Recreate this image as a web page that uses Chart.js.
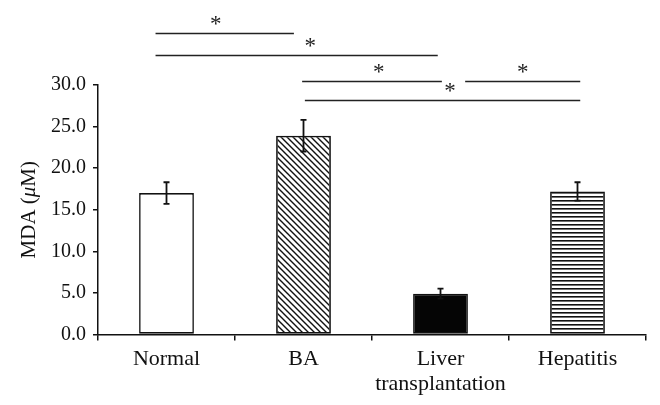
<!DOCTYPE html>
<html>
<head>
<meta charset="utf-8">
<script src="https://cdn.jsdelivr.net/npm/chart.js@4.4.1/dist/chart.umd.min.js"></script>
<style>
  html, body { margin: 0; padding: 0; background: #fff; }
  #wrap { width: 660px; height: 405px; }
</style>
</head>
<body>
<div id="wrap"><canvas id="mdaChart"></canvas></div>
<script>
// data
const categories = ['Normal', 'BA', ['Liver', 'transplantation'], 'Hepatitis'];
const mdaValues = [17.0, 23.9, 4.9, 17.2];
const mdaErrors = [1.3, 1.9, 0.6, 1.1];
const yMax = 30;
const yStep = 5;

// significance brackets: ends and star in category units, level in µM
const brackets = [
    { from: -0.08, to: 0.93, star: 0.36, level: 36.3 },
    { from: -0.08, to: 1.98, star: 1.05, level: 33.6 },
    { from: 0.99, to: 2.01, star: 1.55, level: 30.5 },
    { from: 2.18, to: 3.02, star: 2.60, level: 30.5 },
    { from: 1.01, to: 3.02, star: 2.07, level: 28.2 }
];

const serif = '"Liberation Serif", "DejaVu Serif", serif';

// hatch fills
function diagonalPattern() {
    const c = document.createElement('canvas');
    c.width = 6; c.height = 6;
    const g = c.getContext('2d');
    g.strokeStyle = '#111';
    g.lineWidth = 1.4;
    g.beginPath();
    g.moveTo(-1, -1); g.lineTo(7, 7);
    g.moveTo(-1, 5); g.lineTo(1, 7);
    g.moveTo(5, -1); g.lineTo(7, 1);
    g.stroke();
    return g.createPattern(c, 'repeat');
}

function horizontalPattern() {
    const c = document.createElement('canvas');
    c.width = 4; c.height = 4;
    const g = c.getContext('2d');
    g.fillStyle = '#111';
    g.fillRect(0, 0, 4, 1.6);
    return g.createPattern(c, 'repeat');
}

const fills = ['#ffffff', diagonalPattern(), '#050505', horizontalPattern()];

// error bars on top of each bar
const errorBars = {
    id: 'errorBars',
    afterDatasetsDraw(chart) {
        const ctx = chart.ctx;
        const y = chart.scales.y;
        const meta = chart.getDatasetMeta(0);
        ctx.save();
        ctx.strokeStyle = '#111';
        ctx.lineWidth = 1.8;
        meta.data.forEach((bar, i) => {
            const top = y.getPixelForValue(mdaValues[i] + mdaErrors[i]);
            const bot = y.getPixelForValue(mdaValues[i] - mdaErrors[i]);
            ctx.beginPath();
            ctx.moveTo(bar.x, top); ctx.lineTo(bar.x, bot);
            ctx.moveTo(bar.x - 3, top); ctx.lineTo(bar.x + 3, top);
            ctx.moveTo(bar.x - 3, bot); ctx.lineTo(bar.x + 3, bot);
            ctx.stroke();
        });
        ctx.restore();
    }
};

// brackets with stars and the y axis title
const annotations = {
    id: 'annotations',
    afterDraw(chart) {
        const ctx = chart.ctx;
        const x = chart.scales.x;
        const y = chart.scales.y;
        const x0 = x.getPixelForValue(0);
        const w = x.getPixelForValue(1) - x0;
        ctx.save();
        ctx.strokeStyle = '#222';
        ctx.lineWidth = 1.6;
        ctx.fillStyle = '#222';
        ctx.font = '23px ' + serif;
        ctx.textAlign = 'center';
        ctx.textBaseline = 'middle';
        brackets.forEach(b => {
            const py = Math.round(y.getPixelForValue(b.level)) + 0.5;
            ctx.beginPath();
            ctx.moveTo(x0 + b.from * w, py);
            ctx.lineTo(x0 + b.to * w, py);
            ctx.stroke();
            ctx.fillText('*', x0 + b.star * w, py - 9);
        });

        // axis title: MDA (µM) with italic µ
        const cy = (chart.chartArea.top + chart.chartArea.bottom) / 2;
        ctx.translate(29, cy);
        ctx.rotate(-Math.PI / 2);
        const parts = [['MDA (', ''], ['\u03bc', 'italic '], ['M)', '']];
        let total = 0;
        parts.forEach(p => { ctx.font = p[1] + '21px ' + serif; total += ctx.measureText(p[0]).width; });
        let px = -total / 2;
        ctx.textAlign = 'left';
        ctx.fillStyle = '#111';
        parts.forEach(p => {
            ctx.font = p[1] + '21px ' + serif;
            ctx.fillText(p[0], px, 0);
            px += ctx.measureText(p[0]).width;
        });
        ctx.restore();
    }
};

new Chart(document.getElementById('mdaChart'), {
    type: 'bar',
    data: {
        labels: categories,
        datasets: [{
            data: mdaValues,
            backgroundColor: fills,
            borderColor: '#111',
            borderWidth: 1.6,
            borderSkipped: false,
            barPercentage: 0.4,
            categoryPercentage: 1.0
        }]
    },
    options: {
        responsive: true,
        maintainAspectRatio: false,
        animation: false,
        devicePixelRatio: 1,
        layout: { padding: { top: 85, right: 14, bottom: 2, left: 44 } },
        plugins: {
            legend: { display: false },
            tooltip: { enabled: false }
        },
        scales: {
            x: {
                grid: { drawOnChartArea: false, tickLength: 6, color: '#111', lineWidth: 1.5 },
                border: { color: '#111', width: 1.5 },
                ticks: {
                    color: '#111',
                    padding: 6,
                    font: { family: serif, size: 22, lineHeight: 1.15 }
                }
            },
            y: {
                min: 0,
                max: yMax,
                grid: { drawOnChartArea: false, tickLength: 5, color: '#111', lineWidth: 1.5 },
                border: { color: '#111', width: 1.5 },
                ticks: {
                    stepSize: yStep,
                    color: '#111',
                    padding: 7,
                    font: { family: serif, size: 20 },
                    callback: v => v.toFixed(1)
                }
            }
        }
    },
    plugins: [errorBars, annotations]
});
</script>
</body>
</html>
